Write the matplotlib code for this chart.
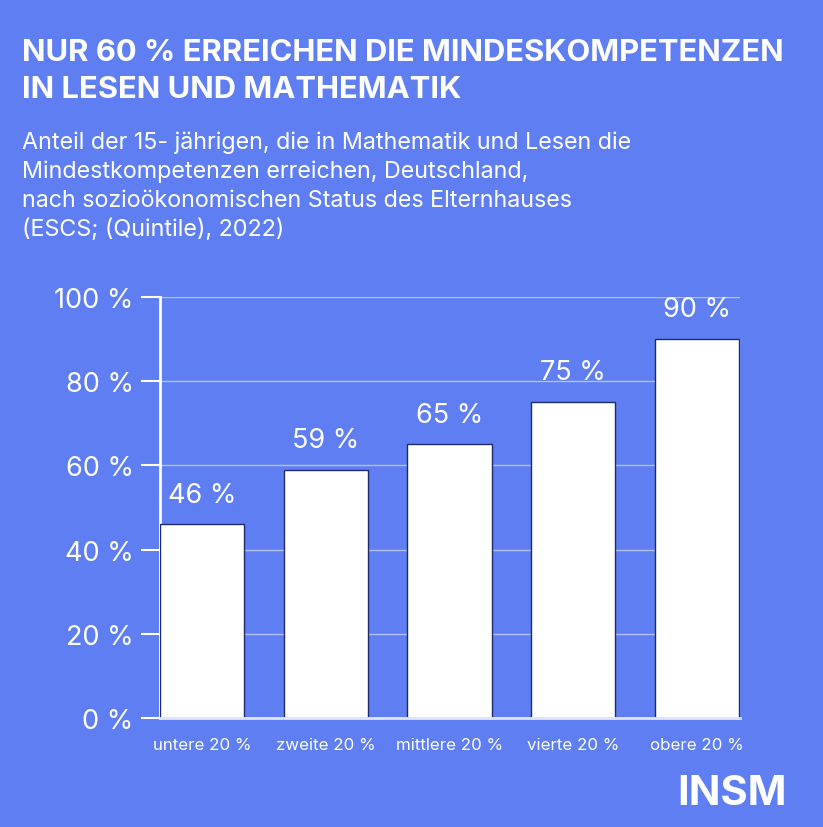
import matplotlib.pyplot as plt

categories = ["untere 20 %", "zweite 20 %", "mittlere 20 %", "vierte 20 %", "obere 20 %"]
values = [46, 59, 65, 75, 90]
yticks = [0, 20, 40, 60, 80, 100]

title = "NUR 60 % ERREICHEN DIE MINDESKOMPETENZEN\nIN LESEN UND MATHEMATIK"
subtitle = ("Anteil der 15- jährigen, die in Mathematik und Lesen die\n"
            "Mindestkompetenzen erreichen, Deutschland,\n"
            "nach sozioökonomischen Status des Elternhauses\n"
            "(ESCS; (Quintile), 2022)")

bg = "#5e7ef2"
plt.rcParams['font.family'] = ['Inter', 'DejaVu Sans']

fig = plt.figure(figsize=(8.23, 8.28), dpi=100, facecolor=bg)
ax = fig.add_axes([0.1944, 0.1316, 0.705, 0.5085], facecolor=bg)

x = list(range(len(categories)))
ax.bar(x, values, width=0.68, color="white", edgecolor="#1f2a6b", linewidth=1.0, zorder=3)
for xi, v in zip(x, values):
    ax.text(xi, v + 4, f"{v} %", ha="center", va="bottom", color="white", fontsize=19.5)

ax.set_xlim(-0.34, 4.35)
ax.set_ylim(0, 100)
ax.set_yticks(yticks)
ax.set_yticklabels([f"{t} %" for t in yticks], fontsize=19.5, color="white")
ax.set_xticks(x)
ax.set_xticklabels(categories, fontsize=12.2, color="white")
ax.tick_params(axis="y", length=14, width=1.5, color="white", pad=5)
ax.tick_params(axis="x", length=0, pad=14)
ax.grid(axis="y", color="#b4c1f8", linewidth=1.0, zorder=0)
for s in ["top", "right"]:
    ax.spines[s].set_visible(False)
ax.spines["left"].set_color("white")
ax.spines["left"].set_linewidth(2)
ax.spines["bottom"].set_color("#dfe5fc")
ax.spines["bottom"].set_linewidth(2)
ax.spines["bottom"].set_zorder(4)

fig.text(22 / 823, 1 - 39 / 828, title, ha="left", va="top", color="white",
         fontsize=22.3, fontweight="bold", linespacing=1.4)
fig.text(22 / 823, 1 - 131 / 828, subtitle, ha="left", va="top", color="white",
         fontsize=16.8, linespacing=1.4)
fig.text(787 / 823, 1 - 805 / 828, "INSM", ha="right", va="baseline", color="white",
         fontsize=30, fontweight="bold")

fig.savefig("out.png", dpi=100, facecolor=bg)
